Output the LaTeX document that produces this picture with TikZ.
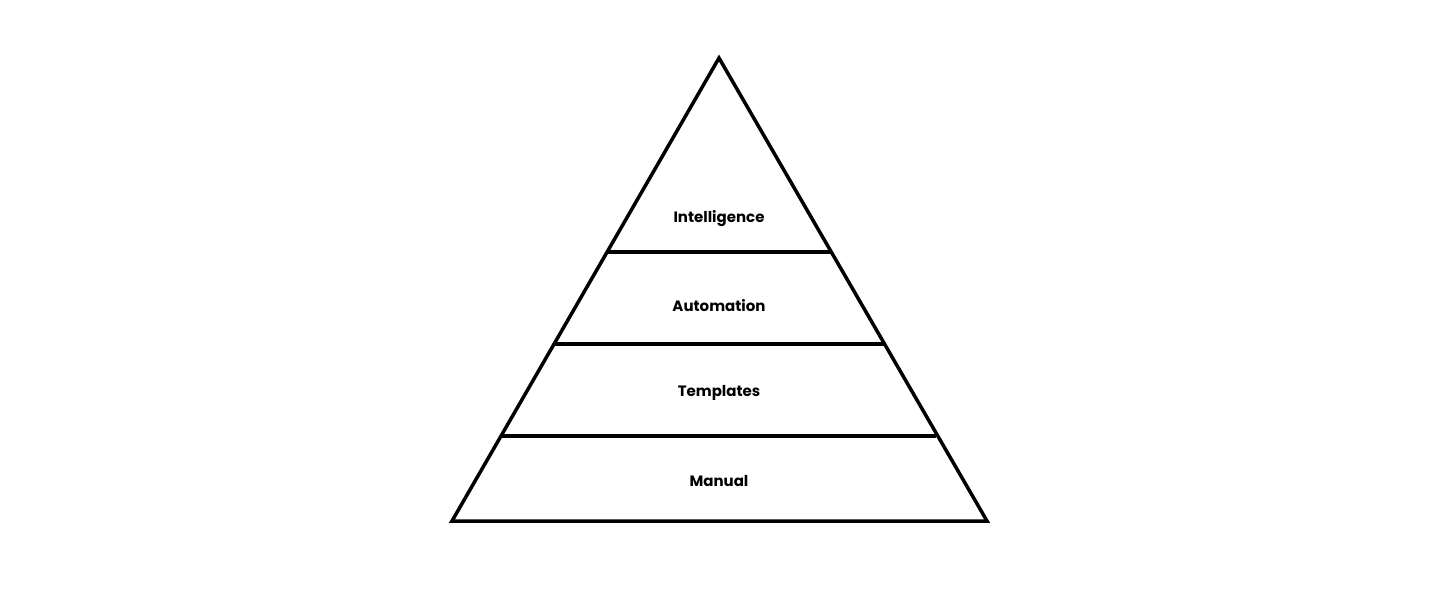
\documentclass[tikz,border=0pt]{standalone}
\usepackage{fontspec}
\setmainfont{Poppins}
\begin{document}
\begin{tikzpicture}[x=1pt,y=-1pt,line width=3.5pt,line join=miter,
  lbl/.style={font=\bfseries\fontsize{15}{18}\selectfont,inner sep=0pt}]
\useasboundingbox (0,0) rectangle (1438,591);
\coordinate (A) at (719,58);
\coordinate (L) at (452,521);
\coordinate (R) at (987,521);
\draw (A) -- (R) -- (L) -- cycle;
\draw (608,252) -- (830,252);
\draw (555,344) -- (884,344);
\draw (502,436) -- (936,436);
\node[lbl] (i) at (719,219) {Intelligence};
\node[lbl] (a) at (719,306) {Automation};
\node[lbl] (t) at (719,393) {Templates};
\node[lbl] (m) at (719,481) {Manual};
\end{tikzpicture}
\end{document}
